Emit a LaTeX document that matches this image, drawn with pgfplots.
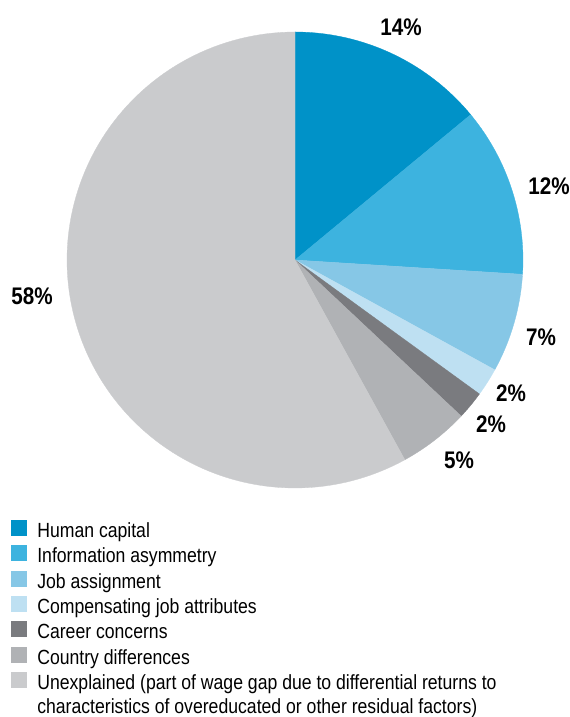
\documentclass[border=0pt]{standalone}
\usepackage{pgfplots}
\pgfplotsset{compat=1.18}
\usepackage{fontspec}
\setmainfont{Liberation Sans}[FakeStretch=0.86]
\definecolor{c1}{HTML}{0092C8}
\definecolor{c2}{HTML}{3DB3DF}
\definecolor{c3}{HTML}{86C7E6}
\definecolor{c4}{HTML}{BEE0F2}
\definecolor{c5}{HTML}{7A7B7F}
\definecolor{c6}{HTML}{B0B2B5}
\definecolor{c7}{HTML}{CACBCD}
\begin{document}
\begin{tikzpicture}
\begin{axis}[
  scale only axis, width=570bp, height=717bp,
  xmin=0, xmax=570, ymin=-717, ymax=0,
  hide axis, clip=false,
  legend style={at={(axis cs:11,-520)}, anchor=north west, draw=none, fill=none,
    inner sep=0pt, outer sep=0pt, row sep=-2.5bp, column sep=0pt,
    nodes={inner sep=0pt, outer sep=0pt, text height=15bp, text depth=10.33bp},
    font=\fontsize{20.5bp}{24.6bp}\selectfont,
    /tikz/every odd column/.append style={column sep=11bp}},
  legend cell align=left,
  legend image code/.code={\fill[#1] (0bp,0bp) rectangle (15bp,15bp);},
]
% values in percent: 14, 12, 7, 2, 2, 5, 58 (cumulative bounds as domains)
\addplot[fill=c1, draw=c1, line width=0.3bp, domain=0:14, samples=40] ({295+228*sin(3.6*x)},{-260+228*cos(3.6*x)}) -- (axis cs:295,-260) -- cycle;
\addlegendentry{Human capital}
\addplot[fill=c2, draw=c2, line width=0.3bp, domain=14:26, samples=40] ({295+228*sin(3.6*x)},{-260+228*cos(3.6*x)}) -- (axis cs:295,-260) -- cycle;
\addlegendentry{Information asymmetry}
\addplot[fill=c3, draw=c3, line width=0.3bp, domain=26:33, samples=30] ({295+228*sin(3.6*x)},{-260+228*cos(3.6*x)}) -- (axis cs:295,-260) -- cycle;
\addlegendentry{Job assignment}
\addplot[fill=c4, draw=c4, line width=0.3bp, domain=33:35, samples=10] ({295+228*sin(3.6*x)},{-260+228*cos(3.6*x)}) -- (axis cs:295,-260) -- cycle;
\addlegendentry{Compensating job attributes}
\addplot[fill=c5, draw=c5, line width=0.3bp, domain=35:37, samples=10] ({295+228*sin(3.6*x)},{-260+228*cos(3.6*x)}) -- (axis cs:295,-260) -- cycle;
\addlegendentry{Career concerns}
\addplot[fill=c6, draw=c6, line width=0.3bp, domain=37:42, samples=20] ({295+228*sin(3.6*x)},{-260+228*cos(3.6*x)}) -- (axis cs:295,-260) -- cycle;
\addlegendentry{Country differences}
\addplot[fill=c7, draw=c7, line width=0.3bp, domain=42:100, samples=120] ({295+228*sin(3.6*x)},{-260+228*cos(3.6*x)}) -- (axis cs:295,-260) -- cycle;
\addlegendentry{\parbox[t]{500bp}{Unexplained (part of wage gap due to differential returns to\newline characteristics of overeducated or other residual factors)}}
\path (axis cs:0,0) rectangle (axis cs:570,-717);
\begin{scope}[every node/.style={font=\bfseries\fontsize{24bp}{28bp}\selectfont, inner sep=0pt}]
\node at (axis cs:401,-27) {14\%};
\node at (axis cs:549,-186) {12\%};
\node at (axis cs:541,-337) {7\%};
\node at (axis cs:511,-393) {2\%};
\node at (axis cs:491,-424) {2\%};
\node at (axis cs:459,-460) {5\%};
\node at (axis cs:32,-296) {58\%};
\end{scope}
\end{axis}
\end{tikzpicture}
\end{document}
